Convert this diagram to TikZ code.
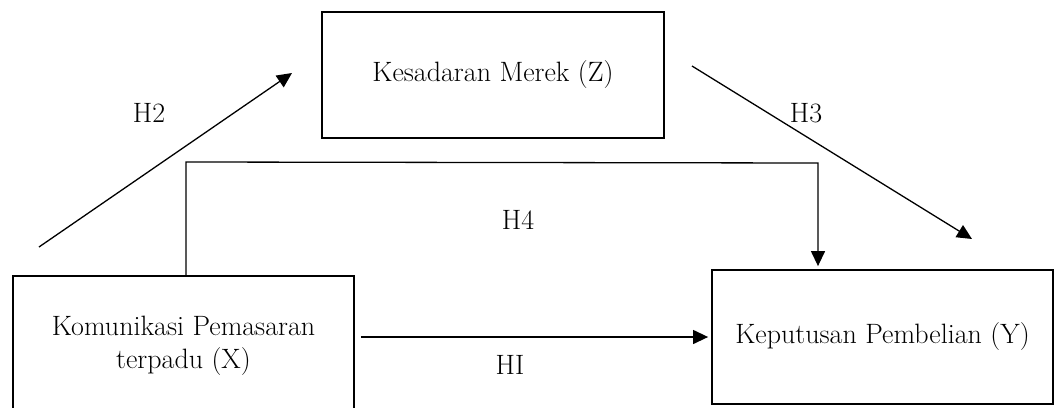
\documentclass[tikz,border=0pt]{standalone}
\usepackage{fontspec}
\setmainfont{Latin Modern Roman}
\usetikzlibrary{arrows.meta}
\begin{document}
\begin{tikzpicture}[x=1pt,y=-1pt,
  box/.style={draw=black,line width=1.8pt,rectangle,inner sep=0pt,align=center,font=\fontsize{28}{33}\selectfont},
  conn/.style={line width=1.3pt,-{Triangle[length=15pt,width=14pt]}},
  lbl/.style={inner sep=0pt,font=\fontsize{28}{33}\selectfont}]
\clip (0,0) rectangle (1060,407);
\fill[white] (0,0) rectangle (1060,407);
% boxes
\node[box,minimum width=342pt,minimum height=126pt] (Z) at (493,75) {Kesadaran Merek (Z)};
\node[box,minimum width=341pt,minimum height=140pt] (X) at (183.5,346) {Komunikasi Pemasaran\\terpadu (X)};
\node[box,minimum width=341pt,minimum height=134pt] (Y) at (882.5,337) {Keputusan Pembelian (Y)};
% free ends
\coordinate (h2s) at (39,247);
\coordinate (h2e) at (292,73);
\coordinate (h3s) at (692,66);
\coordinate (h3e) at (972,239);
\coordinate (h4a) at (186,162);
\coordinate (h4b) at (818,163);
% connectors
\draw[conn] (h2s) -- (h2e);
\draw[conn] (h3s) -- (h3e);
\draw[conn,shorten >=3pt] (X.north -| h4a) -- (h4a) -- (h4b) -- (h4b |- Y.north);
\draw[conn,shorten <=6pt,shorten >=3pt] (X.east |- Y.west) -- (Y.west);
% labels
\node[lbl] (lH2) at (149,113) {H2};
\node[lbl] (lH3) at (806,113) {H3};
\node[lbl] (lH4) at (518,220) {H4};
\node[lbl] (lHI) at (510,365) {HI};
\end{tikzpicture}
\end{document}
